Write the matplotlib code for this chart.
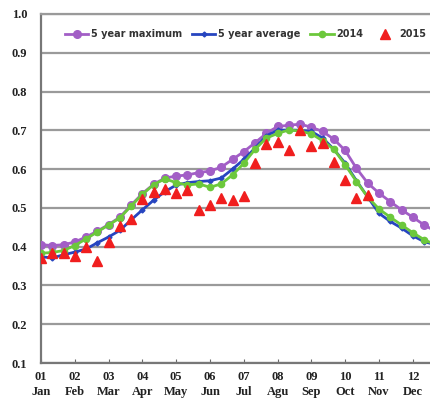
import matplotlib
matplotlib.use("Agg")
import matplotlib.pyplot as plt
import numpy as np

# Dekadal (10-day) values, three per month
month_nums = ["01", "02", "03", "04", "05", "06", "07", "08", "09", "10", "11", "12"]
month_names = ["Jan", "Feb", "Mar", "Apr", "May", "Jun", "Jul", "Agu", "Sep", "Oct", "Nov", "Dec"]

max_5yr = [0.405, 0.403, 0.405, 0.412, 0.425, 0.440, 0.457, 0.476, 0.507, 0.537,
           0.561, 0.577, 0.582, 0.585, 0.591, 0.595, 0.605, 0.625, 0.645, 0.668,
           0.692, 0.710, 0.713, 0.716, 0.708, 0.697, 0.677, 0.648, 0.602, 0.564,
           0.538, 0.516, 0.495, 0.476, 0.456, 0.440]

avg_5yr = [0.374, 0.371, 0.379, 0.386, 0.394, 0.410, 0.425, 0.442, 0.469, 0.495,
           0.520, 0.542, 0.559, 0.565, 0.568, 0.570, 0.577, 0.600, 0.625, 0.654,
           0.686, 0.700, 0.701, 0.700, 0.697, 0.680, 0.651, 0.615, 0.570, 0.528,
           0.486, 0.465, 0.448, 0.428, 0.413, 0.405]

y2014 = [0.383, 0.385, 0.390, 0.403, 0.420, 0.438, 0.456, 0.474, 0.505, 0.535,
         0.560, 0.575, 0.565, 0.559, 0.562, 0.553, 0.562, 0.585, 0.615, 0.651,
         0.680, 0.692, 0.701, 0.698, 0.691, 0.673, 0.651, 0.611, 0.568, 0.528,
         0.497, 0.476, 0.456, 0.436, 0.418, 0.405]

y2015 = [0.371, 0.384, 0.384, 0.376, 0.400, 0.362, 0.411, 0.454, 0.471, 0.522,
         0.542, 0.548, 0.539, 0.546, 0.495, 0.508, 0.525, 0.521, 0.531, 0.617,
         0.665, 0.670, 0.650, 0.700, 0.659, 0.667, 0.619, 0.572, 0.525, 0.534]

fig = plt.figure(figsize=(4.31, 3.98), dpi=100)
ax = fig.add_axes([41 / 431, 35 / 398, 405.6 / 431, 349 / 398])

x_full = np.arange(len(max_5yr))
x_2015 = np.arange(len(y2015))

ax.plot(x_full, max_5yr, color="#a25ec6", lw=2, marker="o", ms=5.5,
        label="5 year maximum", zorder=3)
ax.plot(x_full, avg_5yr, color="#2745c0", lw=2, marker="D", ms=2.5,
        label="5 year average", zorder=4)
ax.plot(x_full, y2014, color="#6cc83c", lw=2, marker="o", ms=4.5,
        label="2014", zorder=5)
ax.plot(x_2015, y2015, color="#f01e1e", lw=0, marker="^", ms=6.5,
        label="2015", zorder=6)

ax.set_xlim(0, 36)
ax.set_ylim(0.1, 1.0)

yt = np.round(np.arange(0.1, 1.01, 0.1), 1)
ax.set_yticks(yt)
ax.set_yticklabels([f"{v:.1f}" for v in yt])
ax.set_xticks(np.arange(0, 36, 3))
ax.set_xticklabels([f"{n}\n{m}" for n, m in zip(month_nums, month_names)])

for lbl in ax.get_xticklabels() + ax.get_yticklabels():
    lbl.set_fontfamily("Liberation Serif")
    lbl.set_fontweight("bold")
    lbl.set_fontsize(9)
    lbl.set_color("#222222")
for lbl in ax.get_xticklabels():
    lbl.set_linespacing(1.35)

ax.tick_params(axis="y", length=0, pad=10)
ax.tick_params(axis="x", direction="in", length=3, color="#666666", pad=6)

ax.grid(axis="y", color="#9a9a9a", lw=1.6, zorder=0)
ax.set_axisbelow(True)
ax.spines["right"].set_visible(False)
ax.spines["top"].set_color("#9a9a9a")
ax.spines["top"].set_linewidth(1.6)
for side in ("left", "bottom"):
    ax.spines[side].set_color("#777777")
    ax.spines[side].set_linewidth(1.6)

leg = fig.legend(loc="center left", bbox_to_anchor=(60 / 431, 1 - 34 / 398),
                 ncol=4, frameon=False, handlelength=2.4, handletextpad=0.3,
                 columnspacing=1.0, borderpad=0,
                 prop=dict(family="DejaVu Sans", weight="bold", size=7))
for t in leg.get_texts():
    t.set_color("#333333")

fig.savefig("out.png", dpi=100)
